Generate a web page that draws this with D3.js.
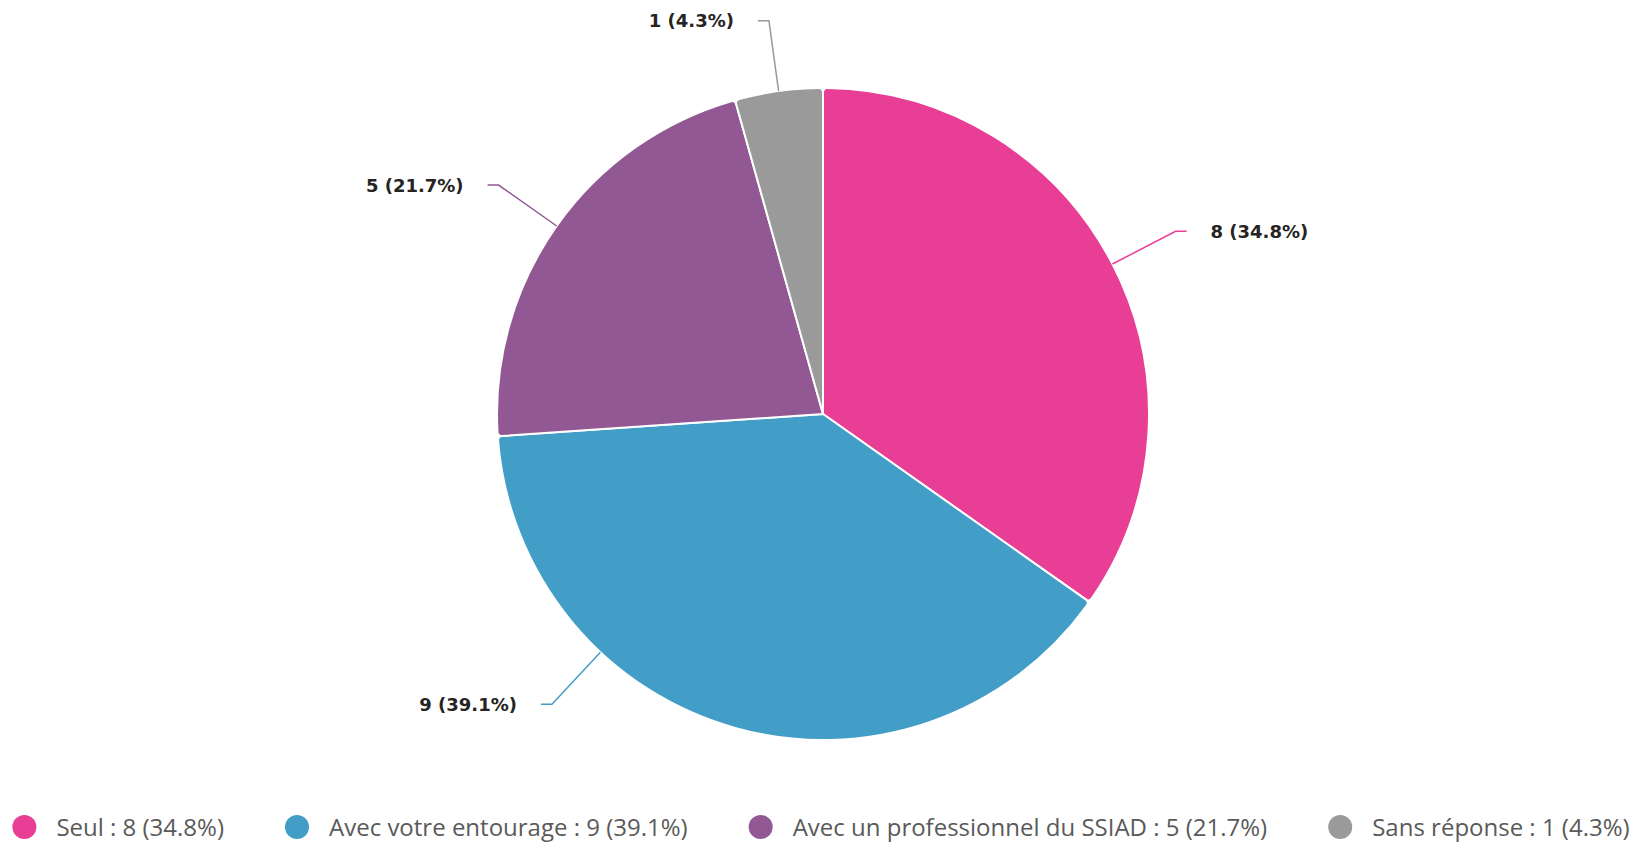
<!DOCTYPE html>
<html lang="fr">
<head>
  <meta charset="utf-8"/>
  <title>Pie</title>
  <script src="https://d3js.org/d3.v7.min.js"></script>
  <style>
    body { margin: 0; background: #fff; }
    svg { display: block; }
  </style>
</head>
<body>
<svg id="chart" width="1642" height="846"></svg>
<script>
  const categories = ["Seul", "Avec votre entourage", "Avec un professionnel du SSIAD", "Sans réponse"];
  const counts = [8, 9, 5, 1];
  const colors = ["#e83e96", "#429dc7", "#925893", "#9a9a9a"];

  const width = 1642, height = 846;
  const cx = 823, cy = 414, r = 326;
  const svg = d3.select("#chart");
  const total = d3.sum(counts);
  const pct = v => (v / total * 100).toFixed(1) + "%";
  const color = d3.scaleOrdinal().domain(categories).range(colors);

  const data = categories.map((c, i) => ({ cat: c, value: counts[i] }));
  const pie = d3.pie().sort(null).value(d => d.value);
  const arcs = pie(data);
  const arc = d3.arc().innerRadius(0).outerRadius(r).cornerRadius(4);

  const g = svg.append("g").attr("transform", "translate(" + cx + "," + cy + ")");
  g.selectAll("path.slice").data(arcs).enter()
    .append("path").attr("class", "slice")
    .attr("d", arc)
    .attr("fill", d => color(d.data.cat))
    .attr("stroke", "#fff")
    .attr("stroke-width", 2);

  // labels with leader lines
  const r2 = r * 1.218;
  const labelBottom = r * 0.89;
  arcs.forEach(d => {
    let a = (d.startAngle + d.endAngle) / 2;
    // keep labels above the legend area
    if (-Math.cos(a) * r2 > labelBottom) {
      const off = Math.acos(labelBottom / r2);
      a = Math.sin(a) < 0 ? Math.PI + off : Math.PI - off;
    }
    const side = Math.sin(a) >= 0 ? 1 : -1;
    const p1 = [r * Math.sin(a), -r * Math.cos(a)];
    const p2 = [r2 * Math.sin(a), -r2 * Math.cos(a)];
    const p3 = [p2[0] + side * 11, p2[1]];
    g.append("polyline")
      .attr("points", [p1, p2, p3].map(p => p.join(",")).join(" "))
      .attr("fill", "none")
      .attr("stroke", color(d.data.cat))
      .attr("stroke-width", 1.5);
    g.append("text")
      .attr("x", p3[0] + side * 24)
      .attr("y", p3[1])
      .attr("dy", "0.36em")
      .attr("text-anchor", side > 0 ? "start" : "end")
      .attr("font-family", "'DejaVu Sans', sans-serif")
      .attr("font-weight", 700)
      .attr("font-size", 18)
      .attr("fill", "#252423")
      .text(d.value + " (" + pct(d.value) + ")");
  });

  // legend
  const legend = svg.append("g");
  const ly = 827;
  let x = 0;
  data.forEach((d, i) => {
    if (i > 0) x += 61;
    const item = legend.append("g");
    item.append("circle")
      .attr("cx", x + 12).attr("cy", ly).attr("r", 12)
      .attr("fill", color(d.cat));
    const t = item.append("text")
      .attr("x", x + 44).attr("y", ly).attr("dy", "0.36em")
      .attr("font-family", "'Open Sans', sans-serif")
      .attr("font-size", 24)
      .attr("fill", "#5a5a5a")
      .text(d.cat + " : " + d.value + " (" + pct(d.value) + ")");
    x += 44 + t.node().getComputedTextLength();
  });
  legend.attr("transform", "translate(" + ((width - x) / 2) + ",0)");
</script>
</body>
</html>
